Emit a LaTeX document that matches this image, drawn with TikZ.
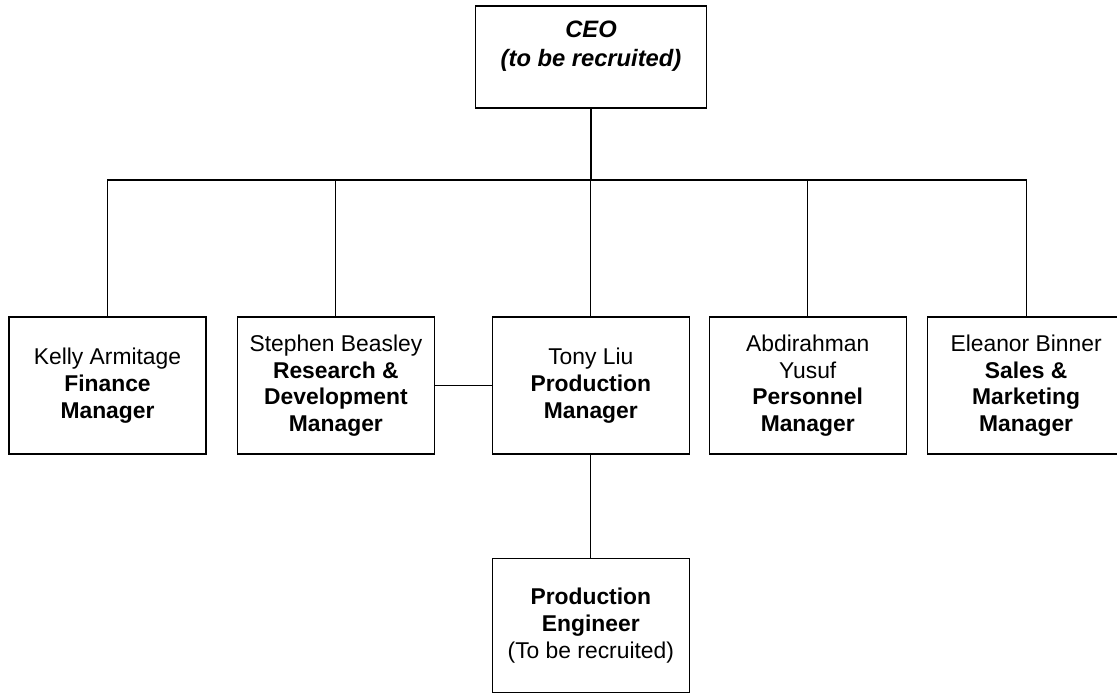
\documentclass[tikz,border=0pt]{standalone}
\usepackage{fontspec}
\setmainfont{Liberation Sans}
\usetikzlibrary{positioning}
\tikzset{
    %Define style for boxes
    post/.style={
           rectangle,
           draw=black, line width=0.8pt,
           minimum width=3.94cm,
           minimum height=2.74cm,
           inner sep=0pt,
           align=center,
           font=\fontsize{13}{15.2}\selectfont},
    headpost/.style={
           post,
           minimum width=4.62cm,
           minimum height=2.04cm},
    % Define line style
    link/.style={
           line width=0.6pt}
}
\begin{document}
\begin{tikzpicture}[node distance=1cm]
    \useasboundingbox (0,0) rectangle (22.34,-13.9);
 %nodes
    \node[headpost] (ceo) at (11.82,-1.14) {};
    \node[font=\fontsize{13.5}{16.5}\selectfont\bfseries\itshape, align=center] (ceotext) at (11.82,-0.93) {CEO\\(to be recruited)};
    \coordinate (bus) at (11.82,-3.6);
    \node[post] (kelly) at (2.15,-7.71) {Kelly Armitage\\\textbf{Finance}\\\textbf{Manager}};
    \node[post, right=0.60cm of kelly] (stephen) {Stephen Beasley\\\textbf{Research \&}\\\textbf{Development}\\\textbf{Manager}};
    \node[post, right=1.13cm of stephen] (tony) {Tony Liu\\\textbf{Production}\\\textbf{Manager}};
    \node[post, right=0.37cm of tony] (abdi) {Abdirahman\\Yusuf\\\textbf{Personnel}\\\textbf{Manager}};
    \node[post, right=0.40cm of abdi] (eleanor) {Eleanor Binner\\\textbf{Sales \&}\\\textbf{Marketing}\\\textbf{Manager}};
    \node[post, minimum height=2.68cm, below=2.06cm of tony] (engineer) {\textbf{Production}\\\textbf{Engineer}\\(To be recruited)};
 %edges
    \draw[link] (ceo) -- (bus);
    \draw[link] (bus) -| (kelly);
    \draw[link] (bus) -| (stephen);
    \draw[link] (bus) -| (tony);
    \draw[link] (bus) -| (abdi);
    \draw[link] (bus) -| (eleanor);
    \draw[link] (stephen) -- (tony);
    \draw[link] (tony) -- (engineer);
\end{tikzpicture}
\end{document}
